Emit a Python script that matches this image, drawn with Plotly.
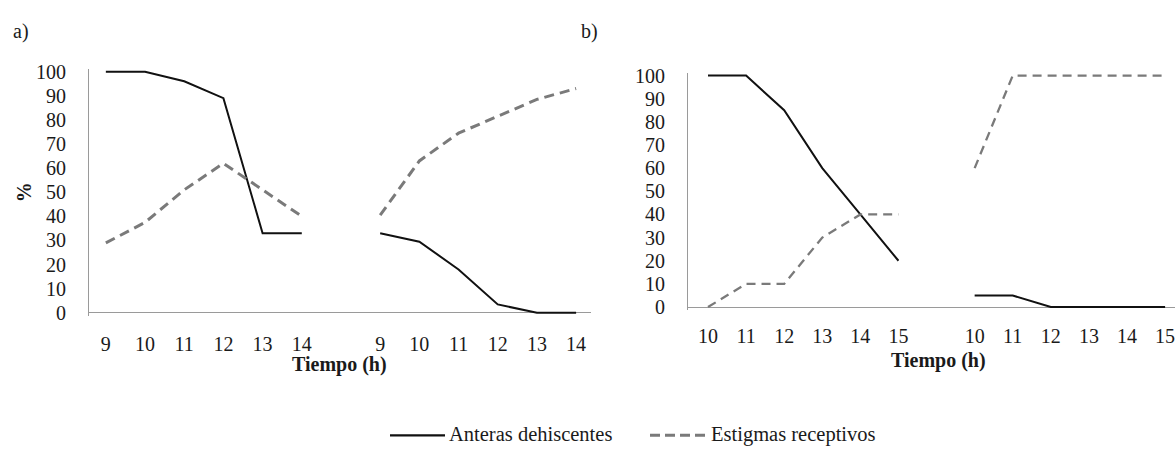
import plotly.graph_objects as go

# Hours sampled in each panel (two observation blocks per panel)
hours_a = [9, 10, 11, 12, 13, 14]
hours_b = [10, 11, 12, 13, 14, 15]

# Panel a) percentages
anteras_a1 = [100, 100, 96, 89, 33, 33]
anteras_a2 = [33, 29.5, 18, 3.5, 0, 0]
estigmas_a1 = [29, 37.5, 51, 62, 51, 40]
estigmas_a2 = [40.5, 63, 74.5, 81.5, 88.5, 93]

# Panel b) percentages
anteras_b1 = [100, 100, 85, 60, 40, 20]
anteras_b2 = [5, 5, 0, 0, 0, 0]
estigmas_b1 = [0, 10, 10, 30, 40, 40]
estigmas_b2 = [60, 100, 100, 100, 100, 100]

y_ticks = list(range(0, 101, 10))
legend_names = ["Anteras dehiscentes", "Estigmas receptivos"]

W, H = 1175, 453
SERIF = '"Liberation Serif", "Times New Roman", Times, serif'
INK = "#1a1a1a"
SOLID = "#111111"
DASH = "#7a7a7a"
AXIS = "#9a9a9a"
DASH_PATTERN = "10px,6px"


def block_positions(hours, offset):
    # one slot per hour, second block shifted by one empty slot
    return [i + offset for i in range(len(hours))]


def px_x(p):
    return p / W


def px_y(p):
    return 1 - p / H


fig = go.Figure()

pos1 = block_positions(hours_a, 0)
pos2 = block_positions(hours_a, len(hours_a) + 1)
posb1 = block_positions(hours_b, 0)
posb2 = block_positions(hours_b, len(hours_b) + 1)

series = [
    ("x", "y", pos1, anteras_a1, SOLID, "solid", 2),
    ("x", "y", pos2, anteras_a2, SOLID, "solid", 2),
    ("x", "y", pos1, estigmas_a1, DASH, DASH_PATTERN, 3),
    ("x", "y", pos2, estigmas_a2, DASH, DASH_PATTERN, 3),
    ("x2", "y2", posb1, anteras_b1, SOLID, "solid", 2),
    ("x2", "y2", posb2, anteras_b2, SOLID, "solid", 2),
    ("x2", "y2", posb1, estigmas_b1, DASH, "9px,6px", 2.3),
    ("x2", "y2", posb2, estigmas_b2, DASH, "9px,6px", 2.3),
]

for xa, ya, xs, ys, color, dash, width in series:
    fig.add_trace(go.Scatter(
        x=xs, y=ys, xaxis=xa, yaxis=ya, mode="lines", showlegend=False,
        line=dict(color=color, dash=dash, width=width),
        hoverinfo="skip",
    ))

tick_font = dict(family=SERIF, size=20, color=INK)

common_y = dict(
    range=[-1.2, 101.2], tickvals=y_ticks, ticks="", showgrid=False,
    showline=True, linecolor=AXIS, linewidth=1,
    zeroline=True, zerolinecolor=AXIS, zerolinewidth=1,
    tickfont=tick_font, ticklabelstandoff=18,
)
common_x = dict(
    showgrid=False, zeroline=False, showline=False, ticks="",
    tickfont=tick_font, ticklabeloverflow="allow",
)

# panel a) geometry: y=100 at 66px, y=0 at 316px
ya_top = 66 - 2.5 * 1.2
ya_bot = 316 + 2.5 * 1.2
# panel b) geometry: y=100 at 70px, y=0 at 310px
yb_top = 70 - 2.4 * 1.2
yb_bot = 310 + 2.4 * 1.2

fig.update_layout(
    width=W, height=H,
    margin=dict(l=0, r=0, t=0, b=0),
    paper_bgcolor="white", plot_bgcolor="white",
    font=dict(family=SERIF, color=INK),
    xaxis=dict(common_x, domain=[px_x(89), px_x(591)], range=[-0.43, 12.38],
               tickvals=pos1 + pos2, ticktext=[str(h) for h in hours_a + hours_a],
               ticklabelstandoff=14, anchor="y"),
    yaxis=dict(common_y, domain=[px_y(ya_bot), px_y(ya_top)], anchor="x"),
    xaxis2=dict(common_x, domain=[px_x(688), 1.0], range=[-0.525, 12.26],
                tickvals=posb1 + posb2, ticktext=[str(h) for h in hours_b + hours_b],
                ticklabelstandoff=12, anchor="y2"),
    yaxis2=dict(common_y, domain=[px_y(yb_bot), px_y(yb_top)], anchor="x2"),
    showlegend=False,
)

annotations = [
    dict(text="a)", x=px_x(21), y=px_y(24)),
    dict(text="b)", x=px_x(589), y=px_y(24)),
    dict(text="<b>Tiempo (h)</b>", x=px_x(340), y=px_y(370)),
    dict(text="<b>Tiempo (h)</b>", x=px_x(938), y=px_y(365)),
    dict(text="<b>%</b>", x=px_x(24), y=px_y(191), textangle=-90),
]
for a in annotations:
    fig.add_annotation(
        xref="paper", yref="paper", showarrow=False,
        xanchor="center", yanchor="middle",
        font=dict(family=SERIF, size=20, color=INK), **a,
    )

# legend row under both panels: line sample followed by its label
legend_rows = [
    (390, 445, SOLID, "solid", 2.2, legend_names[0]),
    (650, 707, DASH, "10px,5px", 3, legend_names[1]),
]
for x0, x1, color, dash, width, label in legend_rows:
    fig.add_shape(
        type="line", xref="paper", yref="paper",
        x0=px_x(x0), x1=px_x(x1), y0=px_y(443), y1=px_y(443),
        line=dict(color=color, dash=dash, width=width),
    )
    fig.add_annotation(
        xref="paper", yref="paper", showarrow=False,
        x=px_x(x1 + 2), y=px_y(442), xanchor="left", yanchor="middle",
        text=label, font=dict(family=SERIF, size=20.5, color=INK),
    )

fig.write_html("out.html")
